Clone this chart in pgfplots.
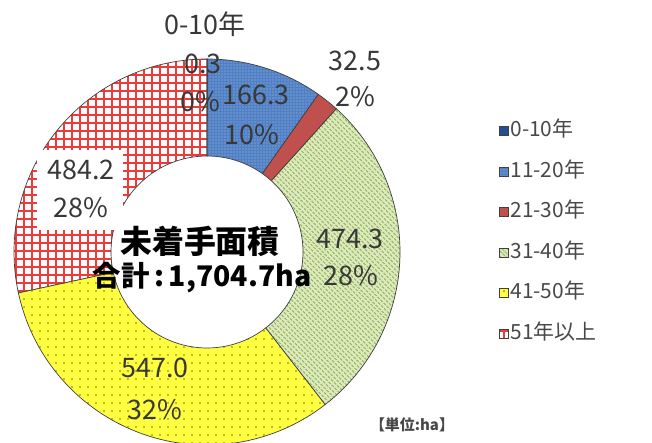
\documentclass[border=0pt]{standalone}
\usepackage{pgfplots}
\pgfplotsset{compat=1.18}
\usepackage{pgfplotstable}
\usepackage{fontspec}
\setmainfont{Noto Sans CJK JP}
\usetikzlibrary{patterns.meta,calc}

\definecolor{lblc}{HTML}{383838}
\definecolor{legc}{HTML}{484848}
\definecolor{cA}{HTML}{24508F}
\definecolor{cB}{HTML}{4F7FC4}
\definecolor{cC}{HTML}{C0504D}
\definecolor{cDbg}{HTML}{DCE9C2}
\definecolor{cD}{HTML}{9BBB59}
\definecolor{cE}{HTML}{FFFF40}
\definecolor{cEdot}{HTML}{7A7A10}
\definecolor{cF}{HTML}{F03A3A}

\pgfplotstableread{
idx value
0 0.3
1 166.3
2 32.5
3 474.3
4 547.0
5 484.2
}\data

\tikzset{
  edge/.style={draw=black!75, line width=0.7bp},
  slice0/.style={edge, fill=cA},
  slice1/.style={edge, preaction={fill=cB}, pattern={Dots[distance=3bp,radius=0.55bp]}, pattern color=cB!45!white},
  slice2/.style={edge, fill=cC},
  slice3/.style={edge, preaction={fill=cDbg}, pattern={Lines[angle=-45,distance=3.6bp,line width=1.4bp]}, pattern color=cD},
  slice4/.style={edge, preaction={fill=cE}, pattern={Dots[distance=8bp,radius=0.85bp]}, pattern color=cEdot},
  slice5/.style={edge, preaction={fill=white}, pattern={Hatch[distance=8bp,line width=1.3bp]}, pattern color=cF},
  lbl/.style={font=\fontsize{27}{30}\selectfont, text=lblc, inner sep=0pt},
}

\begin{document}
\begin{tikzpicture}
\pgfmathsetmacro\total{0}
\pgfplotsforeachungrouped \i in {0,...,5}{%
  \pgfplotstablegetelem{\i}{value}\of\data
  \pgfmathsetmacro\total{\total+\pgfplotsretval}%
}
\def\cum{0}
\pgfplotsforeachungrouped \i in {0,...,5}{%
  \pgfplotstablegetelem{\i}{value}\of\data
  \pgfmathsetmacro\aS{90-\cum/\total*360}%
  \pgfmathsetmacro\cum{\cum+\pgfplotsretval}%
  \pgfmathsetmacro\aE{90-\cum/\total*360}%
  \expandafter\xdef\csname aS\i\endcsname{\aS}%
  \expandafter\xdef\csname aE\i\endcsname{\aE}%
}
\useasboundingbox (0,0) rectangle (652bp,443bp);
\begin{axis}[
  at={(0,0)}, anchor=south west,
  x=1bp, y=1bp, xmin=0, xmax=652, ymin=0, ymax=443,
  hide axis, clip=false,
  legend style={at={(axis cs:499,323)}, anchor=north west, draw=none, fill=none,
    font=\fontsize{21}{21}\selectfont, text=legc, row sep=18.5bp, inner sep=0pt,
    nodes={text height=15bp, text depth=4bp, inner sep=1.5bp}},
  legend cell align=left,
  legend image code/.code={\path[#1] (0bp,-4.5bp) rectangle (9bp,4.5bp);},
]
\pgfplotsinvokeforeach{5,4,3,2,1,0}{%
  \path[slice#1]
    ($(axis cs:207,191)+(\csname aS#1\endcsname:96bp)$)
    arc[start angle=\csname aS#1\endcsname, end angle=\csname aE#1\endcsname, radius=96bp]
    -- ($(axis cs:207,191)+(\csname aE#1\endcsname:193bp)$)
    arc[start angle=\csname aE#1\endcsname, end angle=\csname aS#1\endcsname, radius=193bp]
    -- cycle;
}
\addlegendimage{slice0}\addlegendentry{0-10年}
\addlegendimage{slice1}\addlegendentry{11-20年}
\addlegendimage{slice2}\addlegendentry{21-30年}
\addlegendimage{slice3}\addlegendentry{31-40年}
\addlegendimage{slice4}\addlegendentry{41-50年}
\addlegendimage{slice5}\addlegendentry{51年以上}

% data labels
\node[fill=white, minimum width=86bp, minimum height=80bp, inner sep=0pt] at (axis cs:80,253) {};
\node[lbl] at (axis cs:205,419) {0-10年};
\node[lbl] at (axis cs:203,379) {0.3};
\node[lbl] at (axis cs:200,341) {0\%};
\node[lbl] at (axis cs:256,348) {166.3};
\node[lbl] at (axis cs:252,308) {10\%};
\node[lbl] at (axis cs:355,382) {32.5};
\node[lbl] at (axis cs:355,346) {2\%};
\node[lbl] at (axis cs:350,204) {474.3};
\node[lbl] at (axis cs:351,167) {28\%};
\node[lbl] at (axis cs:155,75) {547.0};
\node[lbl] at (axis cs:155,33) {32\%};
\node[lbl] at (axis cs:81,273) {484.2};
\node[lbl] at (axis cs:81,235) {28\%};
% centre
\node[font=\bfseries\fontsize{32}{34}\selectfont, inner sep=0pt] at (axis cs:200,202) {未着手面積};
\node[font=\bfseries\fontsize{28.5}{32}\selectfont, inner sep=0pt] at (axis cs:202,165) {合計\,:\,1,704.7ha};
\node[font=\bfseries\fontsize{15}{16}\selectfont, text=legc, inner sep=0pt] at (axis cs:412,18) {【単位:ha】};
\end{axis}
\end{tikzpicture}
\end{document}
